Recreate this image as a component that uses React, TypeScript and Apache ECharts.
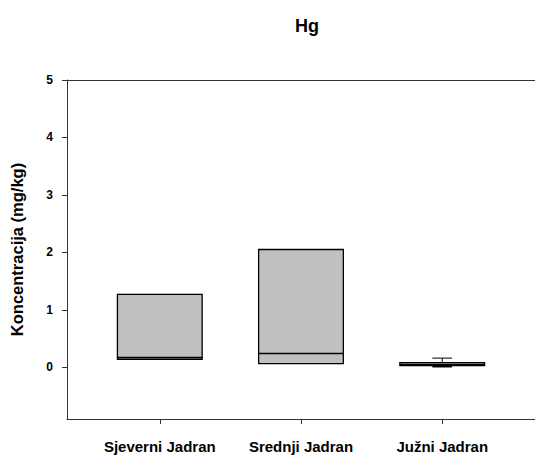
import React, { useEffect, useRef } from "react";
import * as echarts from "echarts";

const categories = ["Sjeverni Jadran", "Srednji Jadran", "Južni Jadran"];
const positions = [1, 2, 3];
const whiskerLow: (number | null)[] = [null, null, 0.01];
const q1 = [0.14, 0.065, 0.03];
const median = [0.17, 0.24, 0.05];
const q3 = [1.27, 2.05, 0.08];
const whiskerHigh: (number | null)[] = [null, null, 0.16];
const yTicks = [0, 1, 2, 3, 4, 5];

export default function App() {
  const ref = useRef<HTMLDivElement>(null);
  useEffect(() => {
    if (!ref.current) return;
    const chart = echarts.init(ref.current, null, { renderer: "svg" });
    const data = positions.map((p, i) => [
      p,
      whiskerLow[i] ?? NaN,
      q1[i],
      median[i],
      q3[i],
      whiskerHigh[i] ?? NaN,
    ]);
    const font = "'Liberation Sans', Arial, sans-serif";
    chart.setOption({
      animation: false,
      title: {
        text: "Hg",
        left: 302,
        textAlign: "center",
        top: 12,
        textStyle: { fontFamily: font, fontSize: 18, fontWeight: "bold", color: "#000" },
      },
      grid: {
        left: 66,
        top: 80,
        right: -3,
        bottom: 44,
        show: false,
      },
      xAxis: [
        {
          type: "value",
          min: 0.343,
          max: 3.657,
          splitLine: { show: false },
          axisLine: { show: true, onZero: false, lineStyle: { color: "#333" } },
          axisTick: { show: true, customValues: positions, length: 5, lineStyle: { color: "#333" } },
          axisLabel: {
            customValues: positions,
            formatter: (v: number) => categories[Math.round(v) - 1] ?? "",
            fontFamily: font,
            fontSize: 15,
            fontWeight: "bold",
            color: "#000",
            margin: 20,
          },
        },
        {
          type: "value",
          position: "top",
          min: 0.343,
          max: 3.657,
          splitLine: { show: false },
          axisLine: { show: true, onZero: false, lineStyle: { color: "#333" } },
          axisTick: { show: false },
          axisLabel: { show: false },
        },
      ],
      yAxis: {
        type: "value",
        min: -0.9,
        max: 5,
        name: "Koncentracija (mg/kg)",
        nameLocation: "middle",
        nameGap: 42,
        nameTextStyle: { fontFamily: font, fontSize: 16.5, fontWeight: "bold", color: "#000" },
        splitLine: { show: false },
        axisLine: { show: true, onZero: false, lineStyle: { color: "#333" } },
        axisTick: { show: true, customValues: yTicks, length: 5, lineStyle: { color: "#333" } },
        axisLabel: {
          customValues: yTicks,
          fontFamily: font,
          fontSize: 12,
          fontWeight: "bold",
          color: "#000",
          margin: 14,
        },
      },
      series: [
        {
          type: "custom",
          data,
          encode: { x: 0, y: [1, 2, 3, 4, 5] },
          renderItem: (params: any, api: any) => {
            const x = api.value(0);
            const lo = api.value(1);
            const b1 = api.value(2);
            const md = api.value(3);
            const b3 = api.value(4);
            const hi = api.value(5);
            const w = api.size([0.6, 0])[0];
            const cap = api.size([0.14, 0])[0];
            const pLo = api.coord([x, b1]);
            const pHi = api.coord([x, b3]);
            const pMd = api.coord([x, md]);
            const children: any[] = [
              {
                type: "rect",
                shape: { x: pLo[0] - w / 2, y: pHi[1], width: w, height: pLo[1] - pHi[1] },
                style: { fill: "#c0c0c0", stroke: "#000", lineWidth: 1.3 },
              },
              {
                type: "line",
                shape: { x1: pMd[0] - w / 2, y1: pMd[1], x2: pMd[0] + w / 2, y2: pMd[1] },
                style: { stroke: "#000", lineWidth: 1.3 },
              },
            ];
            if (!isNaN(hi)) {
              const ph = api.coord([x, hi]);
              children.push(
                { type: "line", shape: { x1: ph[0], y1: ph[1], x2: ph[0], y2: pHi[1] }, style: { stroke: "#000", lineWidth: 1 } },
                { type: "line", shape: { x1: ph[0] - cap / 2, y1: ph[1], x2: ph[0] + cap / 2, y2: ph[1] }, style: { stroke: "#000", lineWidth: 1 } }
              );
            }
            if (!isNaN(lo)) {
              const pl = api.coord([x, lo]);
              children.push(
                { type: "line", shape: { x1: pl[0], y1: pl[1], x2: pl[0], y2: pLo[1] }, style: { stroke: "#000", lineWidth: 1 } },
                { type: "line", shape: { x1: pl[0] - cap / 2, y1: pl[1], x2: pl[0] + cap / 2, y2: pl[1] }, style: { stroke: "#000", lineWidth: 1.5 } }
              );
            }
            return { type: "group", children };
          },
        },
      ],
    });
    return () => chart.dispose();
  }, []);
  return (
    <div
      ref={ref}
      style={{ position: "fixed", left: 0, top: 0, width: 535, height: 463, background: "#fff" }}
    />
  );
}
